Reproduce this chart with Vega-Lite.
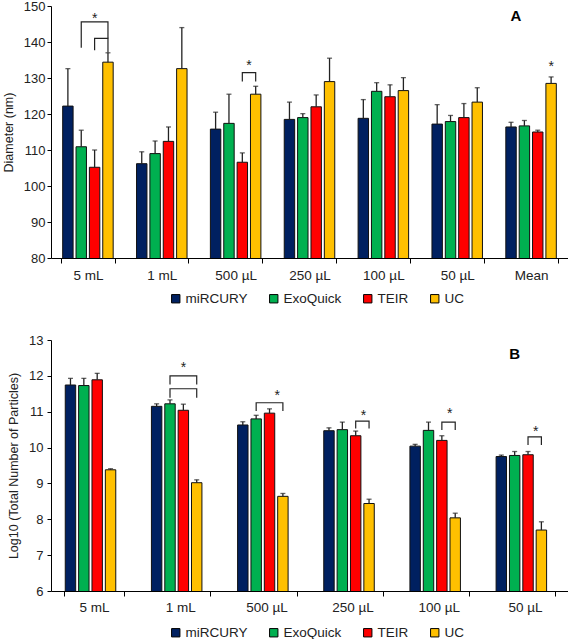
{
  "$schema": "https://vega.github.io/schema/vega-lite/v6.json",
  "padding": {"left": 2, "top": 0, "right": 1, "bottom": 0},
  "spacing": 28,
  "config": {
    "view": {"stroke": null},
    "font": "Liberation Sans",
    "axis": {"domainColor": "#000", "tickColor": "#000", "labelColor": "#222", "titleColor": "#222", "titleFontWeight": "normal", "titleFontSize": 12.5, "labelFontSize": 13, "grid": false, "domainWidth": 1, "tickWidth": 1, "labelOverlap": false},
    "legend": {"orient": "none", "direction": "horizontal", "title": null, "symbolType": "square", "symbolSize": 70, "symbolStrokeColor": "#000", "symbolStrokeWidth": 1, "labelFontSize": 13.5, "labelColor": "#222", "columnPadding": 19, "labelOffset": 3, "gridAlign": "none"}
  },
  "resolve": {"scale": {"color": "independent"}, "legend": {"color": "independent"}},
  "datasets": {
    "diam": [
      {"g": "5 mL", "m": "miRCURY", "v": 122.2, "hi": 132.6},
      {"g": "5 mL", "m": "ExoQuick", "v": 110.9, "hi": 115.5},
      {"g": "5 mL", "m": "TEIR", "v": 105.2, "hi": 110.0},
      {"g": "5 mL", "m": "UC", "v": 134.4, "hi": 137.0},
      {"g": "1 mL", "m": "miRCURY", "v": 106.2, "hi": 109.5},
      {"g": "1 mL", "m": "ExoQuick", "v": 109.0, "hi": 112.5},
      {"g": "1 mL", "m": "TEIR", "v": 112.4, "hi": 116.4},
      {"g": "1 mL", "m": "UC", "v": 132.6, "hi": 144.0},
      {"g": "500 µL", "m": "miRCURY", "v": 115.8, "hi": 120.5},
      {"g": "500 µL", "m": "ExoQuick", "v": 117.4, "hi": 125.5},
      {"g": "500 µL", "m": "TEIR", "v": 106.6, "hi": 109.2},
      {"g": "500 µL", "m": "UC", "v": 125.5, "hi": 127.7},
      {"g": "250 µL", "m": "miRCURY", "v": 118.5, "hi": 123.3},
      {"g": "250 µL", "m": "ExoQuick", "v": 119.0, "hi": 120.1},
      {"g": "250 µL", "m": "TEIR", "v": 122.0, "hi": 125.3},
      {"g": "250 µL", "m": "UC", "v": 129.0, "hi": 135.5},
      {"g": "100 µL", "m": "miRCURY", "v": 118.8, "hi": 124.0},
      {"g": "100 µL", "m": "ExoQuick", "v": 126.3, "hi": 128.7},
      {"g": "100 µL", "m": "TEIR", "v": 124.8, "hi": 128.1},
      {"g": "100 µL", "m": "UC", "v": 126.5, "hi": 130.1},
      {"g": "50 µL", "m": "miRCURY", "v": 117.2, "hi": 122.6},
      {"g": "50 µL", "m": "ExoQuick", "v": 117.9, "hi": 119.6},
      {"g": "50 µL", "m": "TEIR", "v": 119.0, "hi": 122.9},
      {"g": "50 µL", "m": "UC", "v": 123.3, "hi": 127.3},
      {"g": "Mean", "m": "miRCURY", "v": 116.4, "hi": 117.7},
      {"g": "Mean", "m": "ExoQuick", "v": 116.7, "hi": 118.2},
      {"g": "Mean", "m": "TEIR", "v": 115.0, "hi": 115.5},
      {"g": "Mean", "m": "UC", "v": 128.5, "hi": 130.3}
    ],
    "diamBr": [
      {"id": "a1", "g": "5 mL", "m": "ExoQuick", "y": 138.4, "k": 0},
      {"id": "a1", "g": "5 mL", "m": "ExoQuick", "y": 145.6, "k": 1},
      {"id": "a1", "g": "5 mL", "m": "UC", "y": 145.6, "k": 2},
      {"id": "a1", "g": "5 mL", "m": "UC", "y": 141.0, "k": 3},
      {"id": "a2", "g": "5 mL", "m": "TEIR", "y": 137.7, "k": 0},
      {"id": "a2", "g": "5 mL", "m": "TEIR", "y": 141.0, "k": 1},
      {"id": "a2", "g": "5 mL", "m": "UC", "y": 141.0, "k": 2},
      {"id": "a2", "g": "5 mL", "m": "UC", "y": 137.1, "k": 3},
      {"id": "a3", "g": "500 µL", "m": "TEIR", "y": 129.0, "k": 0},
      {"id": "a3", "g": "500 µL", "m": "TEIR", "y": 131.5, "k": 1},
      {"id": "a3", "g": "500 µL", "m": "UC", "y": 131.5, "k": 2},
      {"id": "a3", "g": "500 µL", "m": "UC", "y": 129.0, "k": 3}
    ],
    "diamStar": [
      {"g": "5 mL", "m": "TEIR", "y": 147.2, "mid": false},
      {"g": "500 µL", "m": "TEIR", "y": 134.1, "mid": true},
      {"g": "Mean", "m": "UC", "y": 133.8, "mid": false}
    ],
    "part": [
      {"g": "5 mL", "m": "miRCURY", "v": 11.745, "hi": 11.93},
      {"g": "5 mL", "m": "ExoQuick", "v": 11.73, "hi": 11.93},
      {"g": "5 mL", "m": "TEIR", "v": 11.89, "hi": 12.07},
      {"g": "5 mL", "m": "UC", "v": 9.38, "hi": 9.41},
      {"g": "1 mL", "m": "miRCURY", "v": 11.15, "hi": 11.22},
      {"g": "1 mL", "m": "ExoQuick", "v": 11.22, "hi": 11.33},
      {"g": "1 mL", "m": "TEIR", "v": 11.04, "hi": 11.21},
      {"g": "1 mL", "m": "UC", "v": 9.02, "hi": 9.10},
      {"g": "500 µL", "m": "miRCURY", "v": 10.63, "hi": 10.72},
      {"g": "500 µL", "m": "ExoQuick", "v": 10.80, "hi": 10.90},
      {"g": "500 µL", "m": "TEIR", "v": 10.96, "hi": 11.08},
      {"g": "500 µL", "m": "UC", "v": 8.64, "hi": 8.72},
      {"g": "250 µL", "m": "miRCURY", "v": 10.47, "hi": 10.55},
      {"g": "250 µL", "m": "ExoQuick", "v": 10.50, "hi": 10.71},
      {"g": "250 µL", "m": "TEIR", "v": 10.33, "hi": 10.46},
      {"g": "250 µL", "m": "UC", "v": 8.44, "hi": 8.56},
      {"g": "100 µL", "m": "miRCURY", "v": 10.04, "hi": 10.09},
      {"g": "100 µL", "m": "ExoQuick", "v": 10.48, "hi": 10.71},
      {"g": "100 µL", "m": "TEIR", "v": 10.20, "hi": 10.33},
      {"g": "100 µL", "m": "UC", "v": 8.04, "hi": 8.17},
      {"g": "50 µL", "m": "miRCURY", "v": 9.75, "hi": 9.79},
      {"g": "50 µL", "m": "ExoQuick", "v": 9.78, "hi": 9.89},
      {"g": "50 µL", "m": "TEIR", "v": 9.80, "hi": 9.89},
      {"g": "50 µL", "m": "UC", "v": 7.70, "hi": 7.93}
    ],
    "partBr": [
      {"id": "b1", "g": "1 mL", "m": "ExoQuick", "y": 11.76, "k": 0},
      {"id": "b1", "g": "1 mL", "m": "ExoQuick", "y": 12.0, "k": 1},
      {"id": "b1", "g": "1 mL", "m": "UC", "y": 12.0, "k": 2},
      {"id": "b1", "g": "1 mL", "m": "UC", "y": 11.76, "k": 3},
      {"id": "b2", "g": "1 mL", "m": "ExoQuick", "y": 11.39, "k": 0},
      {"id": "b2", "g": "1 mL", "m": "ExoQuick", "y": 11.64, "k": 1},
      {"id": "b2", "g": "1 mL", "m": "UC", "y": 11.64, "k": 2},
      {"id": "b2", "g": "1 mL", "m": "UC", "y": 11.39, "k": 3},
      {"id": "b3", "g": "500 µL", "m": "ExoQuick", "y": 11.02, "k": 0},
      {"id": "b3", "g": "500 µL", "m": "ExoQuick", "y": 11.25, "k": 1},
      {"id": "b3", "g": "500 µL", "m": "UC", "y": 11.25, "k": 2},
      {"id": "b3", "g": "500 µL", "m": "UC", "y": 11.02, "k": 3},
      {"id": "b4", "g": "250 µL", "m": "TEIR", "y": 10.53, "k": 0},
      {"id": "b4", "g": "250 µL", "m": "TEIR", "y": 10.74, "k": 1},
      {"id": "b4", "g": "250 µL", "m": "UC", "y": 10.74, "k": 2},
      {"id": "b4", "g": "250 µL", "m": "UC", "y": 10.53, "k": 3},
      {"id": "b5", "g": "100 µL", "m": "TEIR", "y": 10.49, "k": 0},
      {"id": "b5", "g": "100 µL", "m": "TEIR", "y": 10.71, "k": 1},
      {"id": "b5", "g": "100 µL", "m": "UC", "y": 10.71, "k": 2},
      {"id": "b5", "g": "100 µL", "m": "UC", "y": 10.49, "k": 3},
      {"id": "b6", "g": "50 µL", "m": "TEIR", "y": 10.07, "k": 0},
      {"id": "b6", "g": "50 µL", "m": "TEIR", "y": 10.30, "k": 1},
      {"id": "b6", "g": "50 µL", "m": "UC", "y": 10.30, "k": 2},
      {"id": "b6", "g": "50 µL", "m": "UC", "y": 10.07, "k": 3}
    ],
    "partStar": [
      {"g": "1 mL", "m": "TEIR", "y": 12.29, "mid": false},
      {"g": "500 µL", "m": "TEIR", "y": 11.53, "mid": true},
      {"g": "250 µL", "m": "TEIR", "y": 10.97, "mid": true},
      {"g": "100 µL", "m": "TEIR", "y": 11.02, "mid": true},
      {"g": "50 µL", "m": "TEIR", "y": 10.53, "mid": true}
    ],
    "labA": [{"g": "Mean", "m": "miRCURY", "y": 147.2, "t": "A"}],
    "labB": [{"g": "50 µL", "m": "ExoQuick", "y": 12.62, "t": "B"}]
  },
  "vconcat": [
    {
      "width": 517,
      "height": 252,
      "encoding": {
        "x": {"field": "g", "type": "nominal", "sort": ["5 mL", "1 mL", "500 µL", "250 µL", "100 µL", "50 µL", "Mean"],
              "scale": {"domain": ["5 mL", "1 mL", "500 µL", "250 µL", "100 µL", "50 µL", "Mean"], "paddingInner": 0.28, "paddingOuter": 0.14},
              "axis": {"title": null, "labelAngle": 0, "tickBand": "extent", "tickSize": 5, "labelPadding": 5, "labelFontSize": 13.5}},
        "xOffset": {"field": "m", "type": "nominal", "scale": {"domain": ["miRCURY", "ExoQuick", "TEIR", "UC"], "paddingInner": 0.22, "paddingOuter": 0.1}}
      },
      "layer": [
        {
          "data": {"name": "diam"},
          "mark": {"type": "bar", "stroke": "#111", "strokeWidth": 1, "clip": true},
          "encoding": {
            "y": {"field": "v", "type": "quantitative", "scale": {"domain": [80, 150], "zero": false, "nice": false},
                  "axis": {"title": "Diameter (nm)", "values": [80, 90, 100, 110, 120, 130, 140, 150], "labelOverlap": false, "tickSize": 4, "labelPadding": 2, "titlePadding": 8}},
            "color": {"field": "m", "type": "nominal", "scale": {"domain": ["miRCURY", "ExoQuick", "TEIR", "UC"], "range": ["#002060", "#00B050", "#FF0000", "#FFC000"]},
                      "legend": {"legendX": 118, "legendY": 286}}
          }
        },
        {
          "data": {"name": "diam"},
          "mark": {"type": "rule", "color": "#222", "strokeWidth": 1.3},
          "encoding": {"y": {"field": "v", "type": "quantitative", "axis": {"title": "Diameter (nm)", "values": [80, 90, 100, 110, 120, 130, 140, 150], "labelOverlap": false, "tickSize": 4, "labelPadding": 2, "titlePadding": 8}}, "y2": {"field": "hi"}}
        },
        {
          "data": {"name": "diam"},
          "mark": {"type": "tick", "orient": "horizontal", "size": 5, "thickness": 1.3, "color": "#222"},
          "encoding": {"y": {"field": "hi", "type": "quantitative", "axis": {"title": "Diameter (nm)", "values": [80, 90, 100, 110, 120, 130, 140, 150], "labelOverlap": false, "tickSize": 4, "labelPadding": 2, "titlePadding": 8}}}
        },
        {
          "data": {"name": "diamBr"},
          "mark": {"type": "line", "color": "#222", "strokeWidth": 1.2},
          "encoding": {"y": {"field": "y", "type": "quantitative", "axis": {"title": "Diameter (nm)", "values": [80, 90, 100, 110, 120, 130, 140, 150], "labelOverlap": false, "tickSize": 4, "labelPadding": 2, "titlePadding": 8}}, "detail": {"field": "id"}, "order": {"field": "k"}}
        },
        {
          "data": {"name": "diamStar"},
          "transform": [{"filter": "!datum.mid"}],
          "mark": {"type": "text", "text": "*", "fontSize": 14, "baseline": "middle", "dy": 3, "color": "#222"},
          "encoding": {"y": {"field": "y", "type": "quantitative", "axis": {"title": "Diameter (nm)", "values": [80, 90, 100, 110, 120, 130, 140, 150], "labelOverlap": false, "tickSize": 4, "labelPadding": 2, "titlePadding": 8}}}
        },
        {
          "data": {"name": "diamStar"},
          "transform": [{"filter": "datum.mid"}],
          "mark": {"type": "text", "text": "*", "fontSize": 14, "baseline": "middle", "dy": 3, "dx": 6.6, "color": "#222"},
          "encoding": {"y": {"field": "y", "type": "quantitative", "axis": {"title": "Diameter (nm)", "values": [80, 90, 100, 110, 120, 130, 140, 150], "labelOverlap": false, "tickSize": 4, "labelPadding": 2, "titlePadding": 8}}}
        },
        {
          "data": {"name": "labA"},
          "mark": {"type": "text", "fontSize": 15, "fontWeight": "bold", "baseline": "middle", "dx": 5, "color": "#000"},
          "encoding": {"y": {"field": "y", "type": "quantitative", "axis": {"title": "Diameter (nm)", "values": [80, 90, 100, 110, 120, 130, 140, 150], "labelOverlap": false, "tickSize": 4, "labelPadding": 2, "titlePadding": 8}}, "text": {"field": "t"}}
        }
      ]
    },
    {
      "width": 517,
      "height": 251,
      "encoding": {
        "x": {"field": "g", "type": "nominal", "sort": ["5 mL", "1 mL", "500 µL", "250 µL", "100 µL", "50 µL"],
              "scale": {"domain": ["5 mL", "1 mL", "500 µL", "250 µL", "100 µL", "50 µL"], "paddingInner": 0.3, "paddingOuter": 0.15},
              "axis": {"title": null, "labelAngle": 0, "tickBand": "extent", "tickSize": 5, "labelPadding": 4, "labelFontSize": 13.5}},
        "xOffset": {"field": "m", "type": "nominal", "scale": {"domain": ["miRCURY", "ExoQuick", "TEIR", "UC"], "paddingInner": 0.18, "paddingOuter": 0.05}}
      },
      "layer": [
        {
          "data": {"name": "part"},
          "mark": {"type": "bar", "stroke": "#111", "strokeWidth": 1, "clip": true},
          "encoding": {
            "y": {"field": "v", "type": "quantitative", "scale": {"domain": [6, 13], "zero": false, "nice": false},
                  "axis": {"title": "Log10 (Total Number of Particles)", "values": [6, 7, 8, 9, 10, 11, 12, 13], "labelOverlap": false, "tickSize": 4, "labelPadding": 4, "titlePadding": 8}},
            "color": {"field": "m", "type": "nominal", "scale": {"domain": ["miRCURY", "ExoQuick", "TEIR", "UC"], "range": ["#002060", "#00B050", "#FF0000", "#FFC000"]},
                      "legend": {"legendX": 118, "legendY": 286}}
          }
        },
        {
          "data": {"name": "part"},
          "mark": {"type": "rule", "color": "#222", "strokeWidth": 1.3},
          "encoding": {"y": {"field": "v", "type": "quantitative", "axis": {"title": "Log10 (Total Number of Particles)", "values": [6, 7, 8, 9, 10, 11, 12, 13], "labelOverlap": false, "tickSize": 4, "labelPadding": 4, "titlePadding": 8}}, "y2": {"field": "hi"}}
        },
        {
          "data": {"name": "part"},
          "mark": {"type": "tick", "orient": "horizontal", "size": 5, "thickness": 1.3, "color": "#222"},
          "encoding": {"y": {"field": "hi", "type": "quantitative", "axis": {"title": "Log10 (Total Number of Particles)", "values": [6, 7, 8, 9, 10, 11, 12, 13], "labelOverlap": false, "tickSize": 4, "labelPadding": 4, "titlePadding": 8}}}
        },
        {
          "data": {"name": "partBr"},
          "mark": {"type": "line", "color": "#222", "strokeWidth": 1.2},
          "encoding": {"y": {"field": "y", "type": "quantitative", "axis": {"title": "Log10 (Total Number of Particles)", "values": [6, 7, 8, 9, 10, 11, 12, 13], "labelOverlap": false, "tickSize": 4, "labelPadding": 4, "titlePadding": 8}}, "detail": {"field": "id"}, "order": {"field": "k"}}
        },
        {
          "data": {"name": "partStar"},
          "transform": [{"filter": "!datum.mid"}],
          "mark": {"type": "text", "text": "*", "fontSize": 14, "baseline": "middle", "dy": 3, "color": "#222"},
          "encoding": {"y": {"field": "y", "type": "quantitative", "axis": {"title": "Log10 (Total Number of Particles)", "values": [6, 7, 8, 9, 10, 11, 12, 13], "labelOverlap": false, "tickSize": 4, "labelPadding": 4, "titlePadding": 8}}}
        },
        {
          "data": {"name": "partStar"},
          "transform": [{"filter": "datum.mid"}],
          "mark": {"type": "text", "text": "*", "fontSize": 14, "baseline": "middle", "dy": 3, "dx": 7.8, "color": "#222"},
          "encoding": {"y": {"field": "y", "type": "quantitative", "axis": {"title": "Log10 (Total Number of Particles)", "values": [6, 7, 8, 9, 10, 11, 12, 13], "labelOverlap": false, "tickSize": 4, "labelPadding": 4, "titlePadding": 8}}}
        },
        {
          "data": {"name": "labB"},
          "mark": {"type": "text", "fontSize": 15, "fontWeight": "bold", "baseline": "middle", "color": "#000"},
          "encoding": {"y": {"field": "y", "type": "quantitative", "axis": {"title": "Log10 (Total Number of Particles)", "values": [6, 7, 8, 9, 10, 11, 12, 13], "labelOverlap": false, "tickSize": 4, "labelPadding": 4, "titlePadding": 8}}, "text": {"field": "t"}}
        }
      ]
    }
  ]
}
